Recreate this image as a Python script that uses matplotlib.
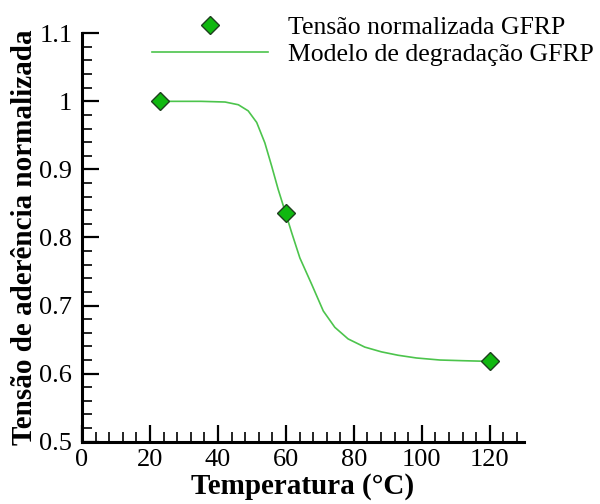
import matplotlib
matplotlib.use("Agg")
import matplotlib.pyplot as plt
from matplotlib.ticker import MultipleLocator, FixedLocator

plt.rcParams["font.family"] = ["Liberation Serif", "DejaVu Serif"]

# Measured normalised bond strength (GFRP)
temp_points = [23, 60, 120]
strength_points = [1.0, 0.836, 0.618]

# Degradation model curve
temp_model = [23, 35, 42.1, 46.0, 48.9, 51.4, 53.8, 55.8, 57.7, 59.9, 61.7,
              64.1, 67.6, 71.0, 74.4, 78.3, 83.2, 88.1, 93.0, 98.4, 105.3,
              112, 120]
strength_model = [1.0, 1.0, 0.999, 0.995, 0.986, 0.969, 0.939, 0.905, 0.871,
                  0.836, 0.807, 0.770, 0.731, 0.692, 0.668, 0.651, 0.639,
                  0.632, 0.627, 0.623, 0.620, 0.619, 0.618]

x_major = [0, 20, 40, 60, 80, 100, 120]
y_major = [0.5, 0.6, 0.7, 0.8, 0.9, 1.0, 1.1]
y_labels = ["0.5", "0.6", "0.7", "0.8", "0.9", "1", "1.1"]

fig = plt.figure(figsize=(6.0, 5.04), dpi=100)
ax = fig.add_axes([0.1367, 0.1236, 0.7363, 0.8104])

line, = ax.plot(temp_model, strength_model, color="#4cc44c", lw=1.2,
                label="Modelo de degradação GFRP", zorder=2)
pts, = ax.plot(temp_points, strength_points, ls="none", marker="D",
               markersize=9, markerfacecolor="#10b810",
               markeredgecolor="#1f3f1f", markeredgewidth=1.0,
               label="Tensão normalizada GFRP", zorder=3, clip_on=False)

ax.set_xlim(0, 130)
ax.set_ylim(0.5, 1.1)
ax.xaxis.set_major_locator(FixedLocator(x_major))
ax.xaxis.set_minor_locator(MultipleLocator(4))
ax.yaxis.set_major_locator(FixedLocator(y_major))
ax.yaxis.set_minor_locator(MultipleLocator(0.02))
ax.set_yticklabels(y_labels)

for s in ("top", "right"):
    ax.spines[s].set_visible(False)
for s in ("left", "bottom"):
    ax.spines[s].set_linewidth(2.2)

ax.tick_params(which="major", direction="in", length=12, width=1.6,
               labelsize=19)
ax.tick_params(axis="y", which="major", pad=7)
ax.tick_params(axis="x", which="major", pad=5)
ax.tick_params(which="minor", direction="in", length=7, width=1.2)

ax.set_xlabel("Temperatura (°C)", fontsize=21, fontweight="bold", labelpad=2)
ax.set_ylabel("Tensão de aderência normalizada", fontsize=21,
              fontweight="bold", labelpad=1)

fig.legend(handles=[pts, line], loc="upper left",
           bbox_to_anchor=(152 / 600, 1 - 16 / 504), frameon=False,
           fontsize=18.5, handlelength=4.5, handletextpad=0.78,
           labelspacing=0.14, borderpad=0, borderaxespad=0)

fig.savefig("out.png", dpi=100)
